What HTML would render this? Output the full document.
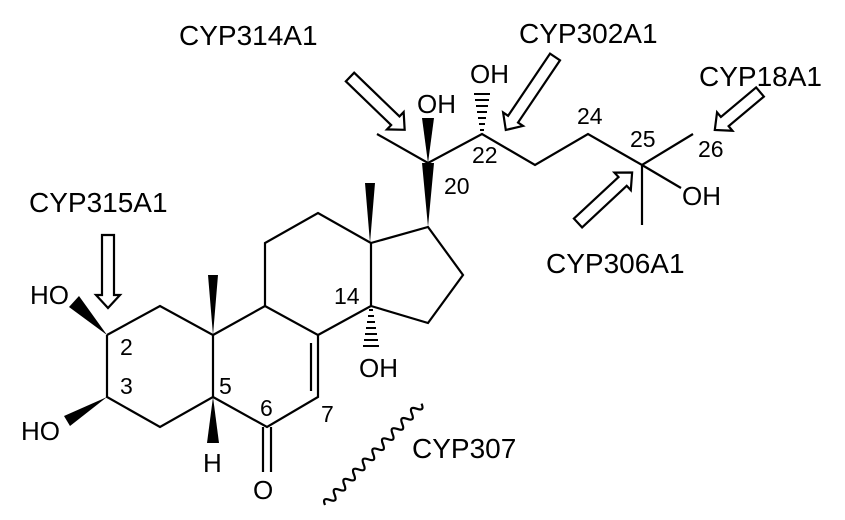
<!DOCTYPE html>
<html><head><meta charset="utf-8"><style>
html,body{margin:0;padding:0;background:#fff;}
svg{display:block;}
text{font-family:"Liberation Sans",Arial,sans-serif;fill:#000;}
.b{font-size:28px;}
.n{font-size:23px;}
.a{font-size:26px;}
</style></head><body>
<svg width="845" height="520" viewBox="0 0 845 520" xmlns="http://www.w3.org/2000/svg">
<g stroke="#000" stroke-width="2.2" fill="none" stroke-linejoin="miter">
<polyline points="107,335 160,306 213,335 213,397 160,427 107,397 107,335"/>
<polyline points="213,335 265,306 318,335 318,397 267,427 213,397"/>
<line x1="311" y1="343" x2="311" y2="391"/>
<polyline points="265,306 265,243 318,213 371,243 371,306 318,335"/>
<polyline points="371,243 428,227 463,275 428,323 371,306"/>
<line x1="263" y1="427" x2="263" y2="472"/>
<line x1="271" y1="427" x2="271" y2="472"/>
<polyline points="377,134 428,163 482,134 535,165 588,134 642,165 693,134"/>
<line x1="642" y1="165" x2="642" y2="225"/>
<line x1="642" y1="165" x2="681" y2="188"/>
<path transform="translate(325,505) rotate(-46.4)" d="M0,0 q3.5,-8 7,0 t7,0 t7,0 t7,0 t7,0 t7,0 t7,0 t7,0 t7,0 t7,0 t7,0 t7,0 t7,0 t7,0 t7,0 t7,0 t7,0 t7,0 t7,0 t7,0"/>
</g>
<g fill="#000">
<polygon points="213,335 208,275 218,275"/>
<polygon points="370,243 365,183 375,183"/>
<polygon points="428,227 422,163 434,163"/>
<polygon points="428,163 422,118 434,118"/>
<polygon points="213,397 207,443 219,443"/>
<polygon points="107,335 69,307 79,296"/>
<polygon points="107,397 64,416 70,426"/>
</g>
<g stroke="#000" stroke-width="2">
<line x1="369" y1="310" x2="373" y2="310"/>
<line x1="368" y1="316" x2="374" y2="316"/>
<line x1="367" y1="322" x2="375" y2="322"/>
<line x1="366" y1="328" x2="376" y2="328"/>
<line x1="365" y1="334" x2="377" y2="334"/>
<line x1="364" y1="340" x2="378" y2="340"/>
<line x1="363" y1="346" x2="379" y2="346"/>
<line x1="480" y1="130" x2="484" y2="130"/>
<line x1="479" y1="124" x2="485" y2="124"/>
<line x1="478" y1="118" x2="486" y2="118"/>
<line x1="477" y1="112" x2="487" y2="112"/>
<line x1="476" y1="106" x2="488" y2="106"/>
<line x1="475" y1="100" x2="489" y2="100"/>
<line x1="474" y1="94" x2="490" y2="94"/>
</g>
<g stroke="#000" stroke-width="2.2" fill="#fff" stroke-linejoin="miter">
<polygon transform="translate(108,235) rotate(90)" points="0,-6 60,-6 60,-12 73,0 60,12 60,6 0,6"/>
<polygon transform="translate(350,77) rotate(44)" points="0,-6 63,-6 63,-12 76,0 63,12 63,6 0,6"/>
<polygon transform="translate(555,57) rotate(124)" points="0,-6 75,-6 75,-12 88,0 75,12 75,6 0,6"/>
<polygon transform="translate(760,92) rotate(140)" points="0,-6 46,-6 46,-12 59,0 46,12 46,6 0,6"/>
<polygon transform="translate(578,223) rotate(-43)" points="0,-6 61,-6 61,-12 74,0 61,12 61,6 0,6"/>
</g>
<text class="b" x="179" y="45">CYP314A1</text>
<text class="b" x="519" y="43">CYP302A1</text>
<text class="b" x="699" y="86">CYP18A1</text>
<text class="b" x="29" y="212">CYP315A1</text>
<text class="b" x="546" y="273">CYP306A1</text>
<text class="b" x="412" y="458">CYP307</text>
<text class="a" x="30" y="304">HO</text>
<text class="a" x="21" y="440">HO</text>
<text class="a" x="203" y="472">H</text>
<text class="a" x="253" y="499">O</text>
<text class="a" x="359" y="377">OH</text>
<text class="a" x="417" y="113">OH</text>
<text class="a" x="470" y="83">OH</text>
<text class="a" x="682" y="205">OH</text>
<text class="n" x="120" y="355">2</text>
<text class="n" x="120" y="394">3</text>
<text class="n" x="219" y="394">5</text>
<text class="n" x="260" y="416">6</text>
<text class="n" x="321" y="422">7</text>
<text class="n" x="334" y="304">14</text>
<text class="n" x="444" y="194">20</text>
<text class="n" x="472" y="163">22</text>
<text class="n" x="577" y="124">24</text>
<text class="n" x="630" y="147">25</text>
<text class="n" x="698" y="157">26</text>
</svg>
</body></html>
